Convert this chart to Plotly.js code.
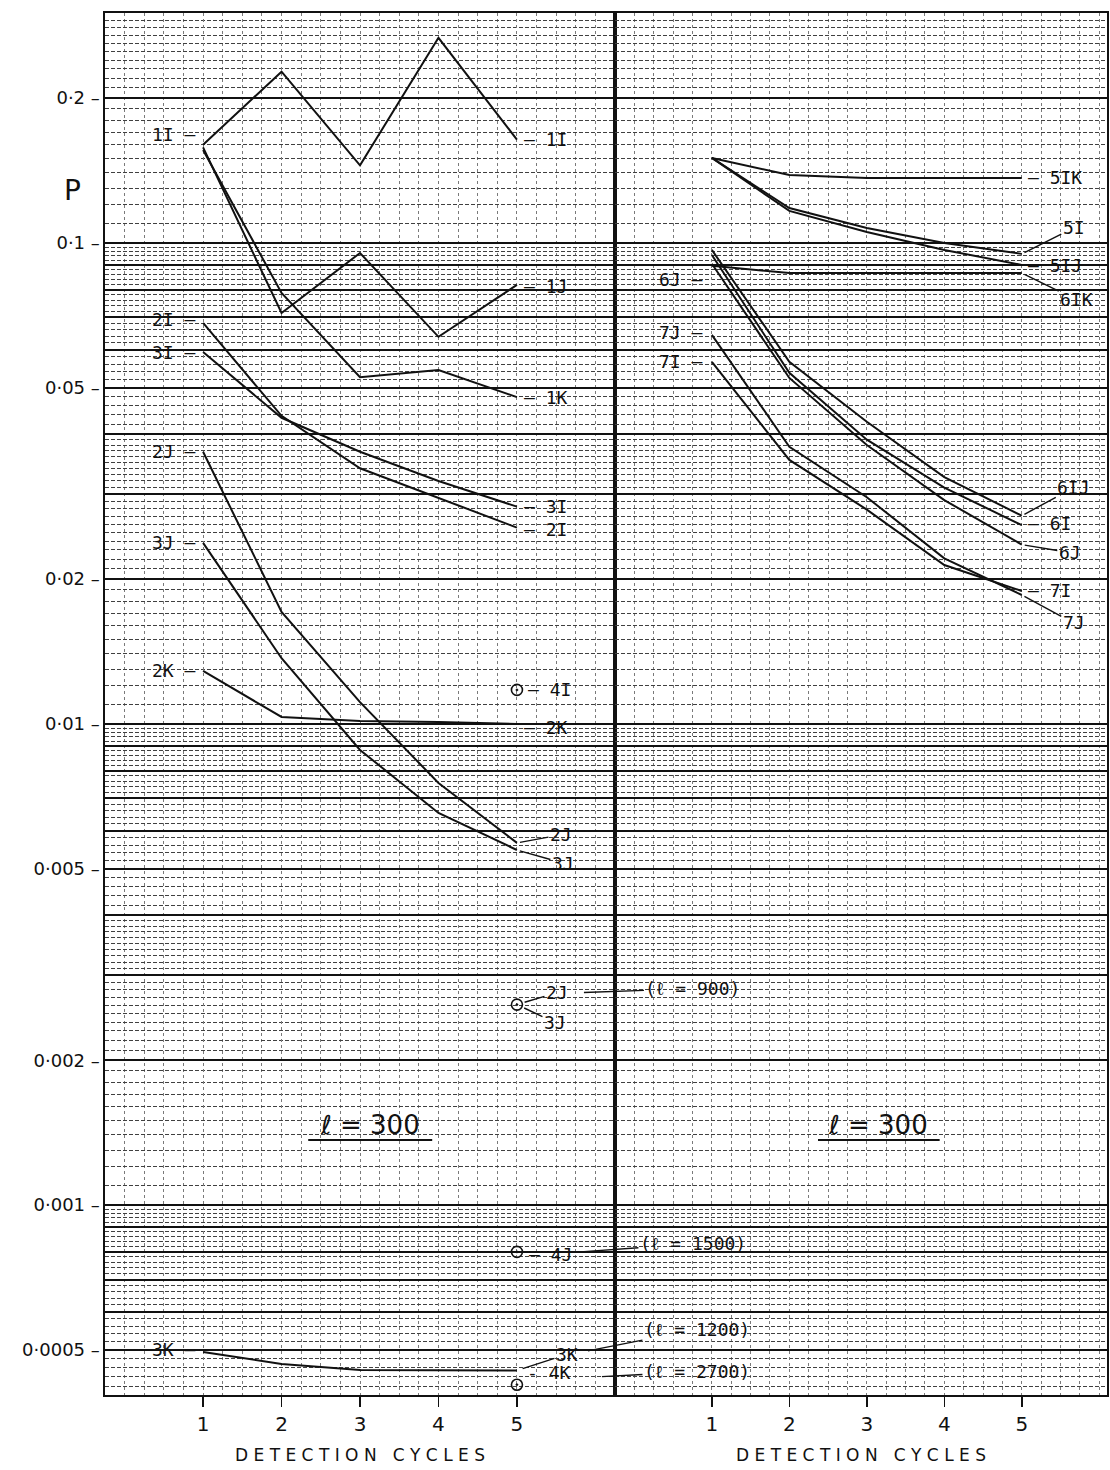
<!DOCTYPE html>
<html>
<head>
<meta charset="utf-8">
<script src="https://cdn.plot.ly/plotly-3.0.1.min.js"></script>
<style>html,body{margin:0;padding:0;background:#fff}</style>
</head>
<body>
<div id="chart" style="width:1110px;height:1470px"></div>
<script>
// Detection probability P versus number of detection cycles
const cycles = [1, 2, 3, 4, 5];

// left panel, l = 300
const p1I = [0.160, 0.227, 0.145, 0.267, 0.164];
const p1J = [0.158, 0.0715, 0.0953, 0.0638, 0.0818];
const p1K = [0.156, 0.0787, 0.0526, 0.0544, 0.0478];
const p2I = [0.0682, 0.0437, 0.0340, 0.0295, 0.0256];
const p3I = [0.0593, 0.0433, 0.0368, 0.0320, 0.0283];
const p2J = [0.0368, 0.0171, 0.0111, 0.00754, 0.00566];
const p3J = [0.0238, 0.0137, 0.00883, 0.00653, 0.00547];
const p2K = [0.01289, 0.01034, 0.01014, 0.0101, 0.0100];
// 3K at l = 1200
const p3K = [0.000495, 0.000467, 0.000454, 0.000453, 0.000453];

// single results after 5 cycles
const pt4I = 0.01177;     // l = 300
const pt2J3J = 0.00261;   // l = 900
const pt4J = 0.000799;    // l = 1500
const pt4K = 0.000423;    // l = 2700

// right panel, l = 300
const p5IK = [0.1502, 0.1384, 0.1365, 0.1365, 0.1365];
const p5I  = [0.1502, 0.1182, 0.1074, 0.1000, 0.0949];
const p5IJ = [0.1502, 0.1166, 0.1054, 0.0967, 0.0900];
const p6IK = [0.0896, 0.0866, 0.0866, 0.0866, 0.0866];
const p6IJ = [0.0967, 0.0566, 0.0425, 0.0326, 0.0271];
const p6I  = [0.0944, 0.0537, 0.0390, 0.0310, 0.0259];
const p6J  = [0.0905, 0.0524, 0.0380, 0.0292, 0.0236];
const p7J  = [0.0644, 0.0377, 0.0296, 0.0221, 0.01854];
const p7I  = [0.0566, 0.0354, 0.0279, 0.0214, 0.0189];

const yLabels = {
  '0.2': '0·2', '0.1': '0·1', '0.05': '0·05', '0.02': '0·02', '0.01': '0·01',
  '0.005': '0·005', '0.002': '0·002', '0.001': '0·001', '0.0005': '0·0005'
};
const xTickVals = [1, 2, 3, 4, 5];

const INK = '#111';
const yLo = -3.395, yHi = -0.522;

// log-paper rulings: heavy at n·10^k, fine lines between
const heavy = [], fine = [];
for (let k = -4; k <= -1; k++) {
  const b = Math.pow(10, k);
  for (let n = 1; n <= 9; n++) {
    const v = +(n * b).toPrecision(6);
    if (Math.log10(v) >= yLo - 1e-6 && Math.log10(v) <= yHi + 0.002) heavy.push(v);
    const step = n < 4 ? 0.1 : 0.2;
    for (let s = step; s < 0.9999; s += step) {
      const f = +((n + s) * b).toPrecision(6);
      if (Math.log10(f) > yLo && Math.log10(f) < yHi) fine.push(f);
    }
  }
}
const heavyText = heavy.map(v => {
  const key = String(+v.toPrecision(6));
  return yLabels[key] ? yLabels[key] + ' –' : '';
});

// quarter-cycle vertical rulings
const quarters = [];
for (let q = 0; q <= 25; q++) quarters.push(q * 0.25);

function series(y, xa) {
  return {
    x: cycles, y: y, xaxis: xa, yaxis: 'y', mode: 'lines',
    line: {color: INK, width: 2}, hoverinfo: 'skip', showlegend: false
  };
}
function point(v, xa) {
  return {
    x: [cycles[4]], y: [v], xaxis: xa, yaxis: 'y', mode: 'markers',
    marker: {symbol: 'circle-open-dot', size: 11, color: INK, line: {color: INK, width: 1.6}},
    hoverinfo: 'skip', showlegend: false
  };
}

const traces = [
  series(p1I, 'x'), series(p1J, 'x'), series(p1K, 'x'),
  series(p2I, 'x'), series(p3I, 'x'), series(p2J, 'x'), series(p3J, 'x'),
  series(p2K, 'x'), series(p3K, 'x'),
  point(pt4I, 'x'), point(pt2J3J, 'x'), point(pt4J, 'x'), point(pt4K, 'x'),
  series(p5IK, 'x2'), series(p5I, 'x2'), series(p5IJ, 'x2'), series(p6IK, 'x2'),
  series(p6IJ, 'x2'), series(p6I, 'x2'), series(p6J, 'x2'),
  series(p7J, 'x2'), series(p7I, 'x2')
];

const labFont = {family: 'DejaVu Sans Mono', size: 18, color: INK};

// plain label beside a point
function tag(text, xa, xv, v, side, dx, dy) {
  return {
    xref: xa, yref: 'y', x: xv, y: Math.log10(v), text: text, showarrow: false,
    xanchor: side, yanchor: 'middle', xshift: dx, yshift: dy, font: labFont
  };
}
// label joined to a point by a slanted leader
function lead(text, xa, xv, v, ax, ay, opt) {
  return Object.assign({
    xref: xa, yref: 'y', x: xv, y: Math.log10(v), text: text, showarrow: true,
    arrowhead: 0, arrowwidth: 1.4, arrowcolor: INK, ax: ax, ay: ay,
    standoff: 3, font: labFont
  }, opt || {});
}

const s = cycles[0], e = cycles[4];
const annotations = [
  // left panel, start labels
  tag('1I —', 'x', s, p1I[0], 'right', -5, 10),
  tag('2I —', 'x', s, p2I[0], 'right', -5, 3),
  tag('3I —', 'x', s, p3I[0], 'right', -5, 0),
  tag('2J —', 'x', s, p2J[0], 'right', -5, 0),
  tag('3J —', 'x', s, p3J[0], 'right', -5, 0),
  tag('2K —', 'x', s, p2K[0], 'right', -5, 0),
  tag('3K —', 'x', s, p3K[0], 'right', -5, 2),
  // left panel, end labels
  tag('— 1I', 'x', e, p1I[4], 'left', 5, 0),
  tag('— 1J', 'x', e, p1J[4], 'left', 5, -2),
  tag('— 1K', 'x', e, p1K[4], 'left', 5, 0),
  tag('— 3I', 'x', e, p3I[4], 'left', 5, 0),
  tag('— 2I', 'x', e, p2I[4], 'left', 5, -2),
  tag('— 2K', 'x', e, p2K[4], 'left', 5, -4),
  tag('— 4I', 'x', e, pt4I, 'left', 9, 0),
  lead('2J', 'x', e, p2J[4], 44, -8),
  lead('3J', 'x', e, p3J[4], 46, 13),
  lead('2J', 'x', e, pt2J3J, 40, -12, {standoff: 8}),
  lead('3J', 'x', e, pt2J3J, 38, 18, {standoff: 8}),
  lead('(ℓ = 900)', 'x', e, pt2J3J, 112, -4, {xshift: 64, yshift: 12}),
  tag('— 4J', 'x', e, pt4J, 'left', 10, -3),
  lead('(ℓ = 1500)', 'x', e, pt4J, 112, -8, {xshift: 64, yshift: 0}),
  lead('3K', 'x', e, p3K[4], 50, -16, {standoff: 6}),
  lead('(ℓ = 1200)', 'x', e, p3K[4], 112, -22, {xshift: 68, yshift: 19}),
  tag('- 4K', 'x', e, pt4K, 'left', 8, 12),
  lead('(ℓ = 2700)', 'x', e, pt4K, 98, -5, {xshift: 82, yshift: 8}),
  // right panel, start labels
  tag('6J —', 'x2', s, p6J[0], 'right', -7, -16),
  tag('7J —', 'x2', s, p7J[0], 'right', -7, 2),
  tag('7I —', 'x2', s, p7I[0], 'right', -7, 0),
  // right panel, end labels
  tag('— 5IK', 'x2', e, p5IK[4], 'left', 4, 0),
  lead('5I', 'x2', e, p5I[4], 52, -26),
  tag('— 5IJ', 'x2', e, p5IJ[4], 'left', 4, -1),
  lead('6IK', 'x2', e, p6IK[4], 55, 27),
  lead('6IJ', 'x2', e, p6IJ[4], 52, -28),
  tag('— 6I', 'x2', e, p6I[4], 'left', 4, 2),
  lead('6J', 'x2', e, p6J[4], 48, 8),
  tag('— 7I', 'x2', e, p7I[4], 'left', 4, 0),
  lead('7J', 'x2', e, p7J[4], 52, 28),
  // panel notes
  {xref: 'x', yref: 'y', x: 3.13, y: -2.834, text: 'ℓ = 300', showarrow: false,
   font: {family: 'DejaVu Sans', size: 26, color: INK}},
  {xref: 'x2', yref: 'y', x: 3.14, y: -2.834, text: 'ℓ = 300', showarrow: false,
   font: {family: 'DejaVu Sans', size: 26, color: INK}},
  {xref: 'paper', yref: 'paper', x: -0.043, y: 0.885, text: 'P', showarrow: false,
   font: {family: 'DejaVu Sans', size: 28, color: INK}}
];

const shapes = [
  {type: 'line', xref: 'x', yref: 'paper', x0: 2.34, x1: 3.92, y0: 0.1845, y1: 0.1845,
   line: {color: INK, width: 2}},
  {type: 'line', xref: 'x2', yref: 'paper', x0: 2.37, x1: 3.94, y0: 0.1845, y1: 0.1845,
   line: {color: INK, width: 2}}
];

const sp = '\u00a0';
const xTitle = 'D E T E C T I O N' + sp + sp + sp + 'C Y C L E S';

function xAxis(domain, range) {
  return {
    domain: domain, range: range, anchor: 'y',
    tickmode: 'array', tickvals: xTickVals, ticktext: xTickVals.map(String),
    ticks: 'outside', ticklen: 10, tickwidth: 1.5, tickcolor: INK,
    tickfont: {family: 'DejaVu Sans', size: 20, color: INK},
    showgrid: true, gridcolor: '#7a7a7a', griddash: 'dot', gridwidth: 1,
    minor: {tickmode: 'array', tickvals: quarters, showgrid: true,
            gridcolor: '#7a7a7a', griddash: 'dot', gridwidth: 1, ticks: ''},
    showline: true, linecolor: INK, linewidth: 2, mirror: true, zeroline: false,
    title: {text: xTitle, standoff: 14, font: {family: 'DejaVu Sans', size: 17, color: INK}}
  };
}

const layout = {
  width: 1110, height: 1470,
  margin: {l: 105, r: 3, t: 13, b: 75},
  paper_bgcolor: '#fff', plot_bgcolor: '#fff',
  showlegend: false,
  xaxis: xAxis([0, 0.509], [-0.25, 6.25]),
  xaxis2: xAxis([0.509, 1], [-0.25, 6.1]),
  yaxis: {
    type: 'log', range: [yLo, yHi],
    tickmode: 'array', tickvals: heavy, ticktext: heavyText, ticks: '',
    tickfont: {family: 'DejaVu Sans', size: 18, color: INK},
    showgrid: true, gridcolor: INK, gridwidth: 2,
    minor: {tickmode: 'array', tickvals: fine, showgrid: true,
            gridcolor: '#404040', griddash: '4px,2px', gridwidth: 1, ticks: ''},
    showline: true, linecolor: INK, linewidth: 1.6, mirror: 'all', zeroline: false
  },
  annotations: annotations,
  shapes: shapes
};

Plotly.newPlot('chart', traces, layout, {displayModeBar: false, staticPlot: true});
</script>
</body>
</html>
